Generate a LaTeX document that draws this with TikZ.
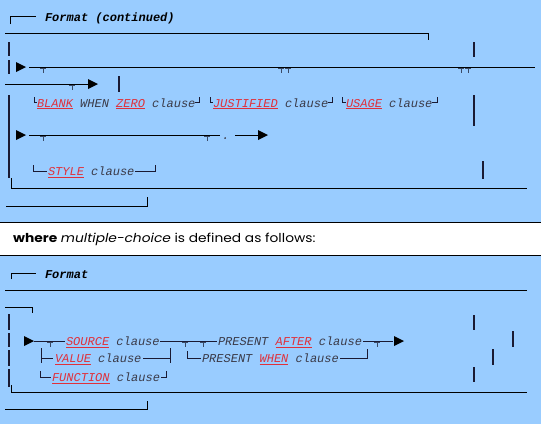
\documentclass[tikz,border=0pt]{standalone}
\usepackage{fontspec}
\setmainfont{Poppins}
\newfontfamily\cour{Liberation Mono}
\definecolor{bg}{HTML}{99CCFF}
\definecolor{kwred}{HTML}{E0303A}
\definecolor{txt}{HTML}{3A3A48}
\definecolor{barc}{HTML}{1A1A33}
\definecolor{teec}{HTML}{3A4A66}
\newcommand\kw[1]{\textcolor{kwred}{\setbox0\hbox{#1}\rlap{\rule[-2.2pt]{\wd0}{1.2pt}}\box0}}
\tikzset{
  tri/.pic={\fill[black] (0,-5) -- (10,0) -- (0,5) -- cycle;},
  tee/.pic={\draw[teec, line width=0.9pt] (-3,1.2) -- (3,1.2) (0,1.2) -- (0,6);}
}
\begin{document}
\begin{tikzpicture}[x=1pt,y=-1pt,
  rule/.style={draw=black, line width=1pt},
  gl/.style={draw=barc, line width=0.9pt},
  bar/.style={draw=barc, line width=1.4pt},
  tx/.style={anchor=base west, inner sep=0pt, outer sep=0pt,
     font=\cour\itshape\fontsize{12}{12}\selectfont, text=txt},
  ttl/.style={tx, font=\cour\bfseries\itshape\fontsize{12}{12}\selectfont, text=black}]
\fill[bg] (0,0) rectangle (541,424);
\useasboundingbox (0,0) rectangle (541,424);

% ---------- section 1 ----------
\draw[rule] (10,24) -- (10,16.5) -- (36,16.5);
\node[ttl] (t1) at (45,21.5) {Format (continued)};
\draw[rule] (5,33) -- (428,33) -- (428,40);
\draw[bar] (9,42) -- (9,56) (9,60) -- (9,74);
\pic at (16,67) {tri};
\draw[rule] (29,67) -- (535,67);
\foreach \x in {43,281,288,461,468} \pic at (\x,67) {tee};
\draw[bar] (474,42) -- (474,57);
\draw[rule] (5,84) -- (88,84);
\pic at (72,84) {tee};
\pic at (88,84) {tri};
\draw[bar] (119,76) -- (119,92);
\draw[bar] (9,95) -- (9,178);

\draw[gl] (34,97) -- (34,102) -- (37,102);
\node[tx] (blank) at (37,107) {\kw{BLANK} WHEN \kw{ZERO} clause};
\draw[gl] (195,102) -- (199,102) -- (199,97);
\draw[gl] (210,97) -- (210,102) -- (213,102);
\node[tx] (just) at (213,107) {\kw{JUSTIFIED} clause};
\draw[gl] (328,102) -- (332,102) -- (332,97);
\draw[gl] (342,97) -- (342,102) -- (346,102);
\node[tx] (usage) at (346,107) {\kw{USAGE} clause};
\draw[gl] (432,102) -- (437,102) -- (437,97);
\draw[bar] (474,95) -- (474,126);

\pic at (16,135) {tri};
\draw[rule] (29,135) -- (220,135);
\foreach \x in {43,207} \pic at (\x,135) {tee};
\node[tx] (dot) at (222,139) {.};
\draw[rule] (235,135) -- (258,135);
\pic at (258,135) {tri};

\draw[gl] (33,165) -- (33,171) -- (47,171);
\node[tx] (style) at (48,175.5) {\kw{STYLE} clause};
\draw[gl] (135,171) -- (155,171) -- (155,165);
\draw[bar] (483,161) -- (483,179);
\draw[rule] (11,178) -- (11,188) -- (527,188);
\draw[rule] (6,206) -- (147,206) -- (147,197);

% ---------- white band ----------
\fill[white] (0,222) rectangle (541,255);
\draw[rule] (0,222) -- (541,222) (0,255) -- (541,255);
\node[anchor=base west, inner sep=0pt, transform shape, xscale=1.12,
      font=\fontsize{12.3}{12.3}\selectfont] (where) at (13,242.5)
  {\textbf{where} \textit{multiple-choice} is defined as follows:};

% ---------- section 2 ----------
\draw[rule] (11,279) -- (11,273) -- (36,273);
\node[ttl] (t2) at (45,278) {Format};
\draw[rule] (5,290) -- (527,290);
\draw[rule] (5,307) -- (32,307) -- (32,313);
\draw[bar] (9,314) -- (9,330) (9,333) -- (9,347) (9,350) -- (9,366) (9,369) -- (9,387);
\draw[rule] (11,385) -- (11,392) -- (527,392);
\draw[rule] (5,409) -- (147,409) -- (147,401);

\pic at (24,341) {tri};
\draw[gl] (34,341) -- (65,341);
\pic at (50,341) {tee};
\node[tx] (source) at (66,345.5) {\kw{SOURCE} clause};
\draw[gl] (160,341) -- (217,341);
\foreach \x in {185,203} \pic at (\x,341) {tee};
\node[tx] (after) at (218,345.5) {PRESENT \kw{AFTER} clause};
\draw[gl] (363,341) -- (393,341);
\pic at (377,341) {tee};
\pic at (394,341) {tri};

\draw[gl] (41,348) -- (41,363) (41,358) -- (53,358);
\node[tx] (value) at (55,362.5) {\kw{VALUE} clause};
\draw[gl] (143,358) -- (170,358) (170,348) -- (170,363);
\draw[gl] (187,351) -- (187,358) -- (201,358);
\node[tx] (when) at (202,362.5) {PRESENT \kw{WHEN} clause};
\draw[gl] (340,358) -- (367,358) -- (367,349);
\draw[gl] (40,371) -- (40,377) -- (51,377);
\node[tx] (func) at (52,381.5) {\kw{FUNCTION} clause};
\draw[gl] (161,377) -- (166,377) -- (166,371);

\draw[bar] (474,315) -- (474,330) (513,331) -- (513,347) (493,349) -- (493,365) (474,367) -- (474,382);
\end{tikzpicture}
\end{document}
